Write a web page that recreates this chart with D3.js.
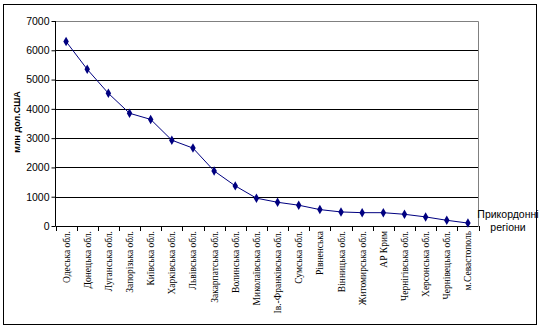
<!DOCTYPE html>
<html><head><meta charset="utf-8">
<script src="https://cdn.jsdelivr.net/npm/d3@7"></script>
<style>body{margin:0;background:#fff}svg{display:block}</style>
</head><body>
<svg id="c" width="542" height="330"></svg>
<script>
const categories = ["Одеська обл.","Донецька обл.","Луганська обл.","Запорізька обл.","Київська обл.","Харківська обл.","Львівська обл.","Закарпатська обл.","Волинська обл.","Миколаївська обл.","Ів.-Франківська обл.","Сумська обл.","Рівненська","Вінницька обл.","Житомирська обл.","АР Крим","Чернігівська обл.","Херсонська обл.","Чернівецька обл.","м.Севастополь"];
const values = [6300,5350,4530,3850,3640,2930,2660,1880,1370,950,810,710,560,480,455,455,400,310,195,100];
const yTicks = [0,1000,2000,3000,4000,5000,6000,7000];
const yTitle = "млн дол.США";
const xTitle = ["Прикордонні","регіони"];

const svg = d3.select("#c");
const L = 55.5, R = 478.5, T = 21, B = 226;
svg.append("rect").attr("x",3.5).attr("y",4.5).attr("width",533).attr("height",320).attr("fill","#fff").attr("stroke","#000").attr("stroke-width",1);

const x = d3.scaleBand().domain(categories).range([L,R]);
const y = d3.scaleLinear().domain([0,7000]).range([B,T]);

// gridlines
svg.append("g").selectAll("line").data(yTicks.filter(d=>d>0 && d<7000)).join("line")
  .attr("x1",L).attr("x2",R).attr("y1",d=>Math.round(y(d))+0.5).attr("y2",d=>Math.round(y(d))+0.5)
  .attr("stroke","#000").attr("stroke-width",1);
// plot border top/right gray
svg.append("path").attr("d",`M${L},${T+0.5}H${R}V${B}`).attr("fill","none").attr("stroke","#808080");

// y axis
const ya = svg.append("g").attr("transform",`translate(${L},0)`)
  .call(d3.axisLeft(y).tickValues(yTicks).tickSize(4).tickFormat(d3.format("d")));
ya.selectAll("path,line").attr("stroke","#000");
ya.select(".domain").attr("d",`M0,${T}V${B}`);
ya.selectAll("text").attr("font-family","Arial, 'Liberation Sans'").attr("font-size",10.5).attr("fill","#000").attr("x",-6);

// x axis
const xa = svg.append("g").attr("transform",`translate(0,${B+0.5})`)
  .call(d3.axisBottom(x).tickSize(0).tickFormat(""));
xa.select(".domain").attr("d",`M${L},0H${R}`).attr("stroke","#000");
svg.append("g").selectAll("line").data(categories.map((c,i)=>i).concat([categories.length]))
  .join("line").attr("x1",i=>Math.round(L+i*x.step())+0.5).attr("x2",i=>Math.round(L+i*x.step())+0.5)
  .attr("y1",B).attr("y2",B+5).attr("stroke","#000");

svg.append("g").selectAll("text").data(categories).join("text")
  .attr("transform",d=>`translate(${x(d)+x.bandwidth()/2+3.5},${B+5}) rotate(-90)`)
  .attr("text-anchor","end")
  .attr("font-family","'Liberation Serif','Times New Roman',serif").attr("font-size",9.5)
  .attr("fill","#000").text(d=>d);

// line
const line = d3.line().x((d,i)=>x(categories[i])+x.bandwidth()/2).y(d=>y(d));
svg.append("path").datum(values).attr("d",line).attr("fill","none").attr("stroke","#000080").attr("stroke-width",1);
svg.append("g").selectAll("path").data(values).join("path")
  .attr("transform",(d,i)=>`translate(${x(categories[i])+x.bandwidth()/2},${y(d)})`)
  .attr("d",d3.symbol().type(d3.symbolDiamond).size(26)).attr("fill","#000080");

// titles
svg.append("text").attr("transform","translate(20,122) rotate(-90)").attr("text-anchor","middle")
  .attr("font-family","Arial, 'Liberation Sans'").attr("font-size",9).attr("font-weight","bold").text(yTitle);
svg.append("g").selectAll("text").data(xTitle).join("text")
  .attr("x",508).attr("y",(d,i)=>218+i*13).attr("text-anchor","middle")
  .attr("font-family","Arial, 'Liberation Sans'").attr("font-size",10.5).attr("fill","#000").text(d=>d);
</script>
</body></html>
